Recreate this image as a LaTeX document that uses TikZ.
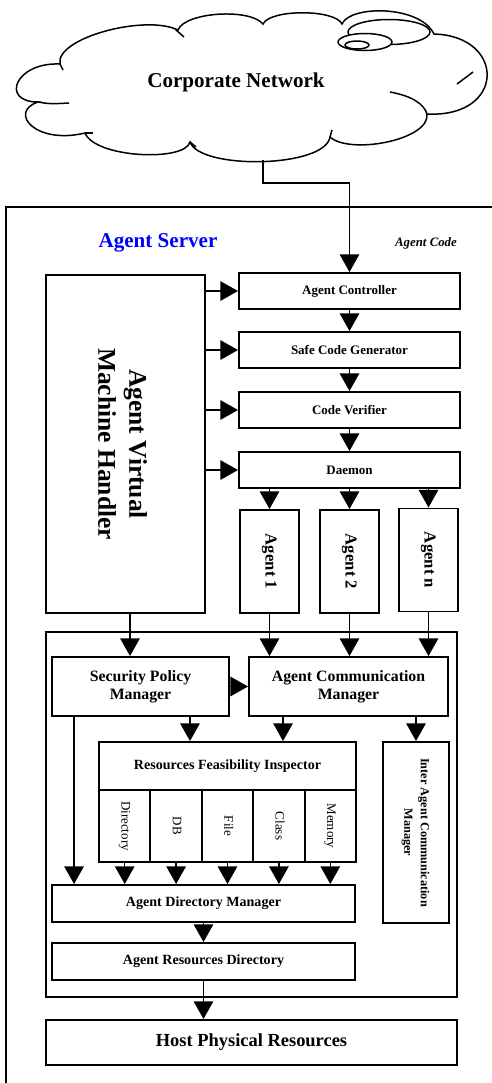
\documentclass[tikz,border=0pt]{standalone}
\usepackage{fontspec}
\setmainfont{Liberation Serif}
\usetikzlibrary{arrows.meta}

\newcommand\fsz[2]{\fontsize{#1}{#2}\selectfont}
\newcommand\vlab[1]{\rotatebox{-90}{\begin{tabular}{@{}c@{}}#1\end{tabular}}}

\begin{document}
\begin{tikzpicture}[x=0.02cm,y=-0.02cm,
    box/.style={draw,line width=1.1pt,inner sep=1pt,align=center},
    stage/.style={box,minimum width=4.42cm,minimum height=0.72cm,font=\bfseries\fsz{7.4}{8.8}},
    agent/.style={box,minimum width=1.18cm,minimum height=2.06cm,font=\bfseries\fsz{9.5}{11}},
    mgr/.style={box,minimum height=1.18cm,font=\bfseries\fsz{9}{10.2}},
    res/.style={box,minimum width=1.028cm,minimum height=1.44cm,font=\fsz{7.4}{9}},
    dirbox/.style={box,minimum width=6.06cm,minimum height=0.74cm,font=\bfseries\fsz{8}{9.6}},
    arr/.style={line width=0.9pt,-{Triangle[length=10pt,width=11pt]}},
    cloudline/.style={line width=0.85pt},
    srvframe/.style={line width=1.1pt}]
  \clip (0,0) rectangle (492,1083);

  % the network cloud
  \draw[cloudline] (38,102) .. controls (0,102) and (15,62) .. (60,64)
    .. controls (55,38) and (145,14) .. (178,30)
    .. controls (185,12) and (250,8) .. (263,24)
    .. controls (270,9) and (335,9) .. (342,24)
    .. controls (350,5) and (420,5) .. (434,34)
    .. controls (506,36) and (506,118) .. (427,114)
    .. controls (430,140) and (350,155) .. (330,137)
    .. controls (325,168) and (200,170) .. (190,142)
    .. controls (185,162) and (95,158) .. (85,133)
    .. controls (35,145) and (8,112) .. (38,102) -- cycle;
  \draw[cloudline] (38,102) .. controls (50,104) .. (69,103);
  \draw[cloudline] (60,64) -- (63,70);
  \draw[cloudline] (175,29) .. controls (179,33) .. (184,37);
  \draw[cloudline] (390,92) .. controls (412,96) and (424,104) .. (427,114);
  \draw[cloudline] (332,130) -- (330,137);
  \draw[cloudline] (190,142) -- (196,147);
  \draw[cloudline] (85,133) -- (93,133);
  \draw[cloudline] (457,84) .. controls (465,78) .. (473,72);
  \draw[cloudline] (389,32) ellipse [x radius=0.82cm,y radius=0.25cm];
  \draw[cloudline,fill=white] (365,42) ellipse [x radius=0.54cm,y radius=0.17cm];
  \draw[cloudline,fill=white] (357,45) ellipse [x radius=0.24cm,y radius=0.08cm];
  \node[font=\bfseries\fsz{12}{14}] (net) at (236,82) {Corporate Network};
  \coordinate (netb) at (263,160);

  % agent server
  \draw[srvframe] (6,1100) |- (500,207);
  \node[font=\bfseries\fsz{12}{14},text=blue] (srv) at (158,243) {Agent Server};
  \node[font=\bfseries\itshape\fsz{7.3}{9}] (code) at (426,243) {Agent Code};

  \node[box,minimum width=3.18cm,minimum height=6.76cm,font=\bfseries\fsz{14.5}{17.6}] (avmh) at (125.5,444)
    {\hspace*{-0.22cm}\vlab{Agent Virtual\\Machine Handler}};
  \foreach \n/\y/\t in {ctrl/291/Agent Controller,gen/350/Safe Code Generator,
                        ver/410/Code Verifier,dmn/470/Daemon}
    \node[stage] (\n) at (349.5,\y) {\t};
  \node[agent] (ag1) at (269.5,561.5) {\vlab{Agent 1}};
  \node[agent] (ag2) at (349.5,561.5) {\vlab{Agent 2}};
  \node[agent] (agn) at (428.5,560) {\vlab{Agent n}};

  % managers
  \node[box,minimum width=8.22cm,minimum height=7.3cm] (core) at (251.5,814.5) {};
  \node[mgr,minimum width=3.54cm] (spm) at (140.5,686.5) {Security Policy\\Manager};
  \node[mgr,minimum width=3.98cm] (acm) at (348.5,686.5) {Agent Communication\\Manager};
  \node[box,minimum width=5.14cm,minimum height=0.96cm,font=\bfseries\fsz{8}{9.6}] (rfi) at (227.5,766)
    {Resources Feasibility Inspector};
  \foreach \i/\t in {1/Directory,2/DB,3/File,4/Class,5/Memory}
    \node[res] (r\i) at ({99+51.4*(\i-0.5)},826) {\vlab{\t}};
  \node[box,minimum width=1.32cm,minimum height=3.62cm,font=\bfseries\fsz{7}{9.4}] (iacm) at (416,832.5)
    {\vlab{Inter Agent Communication\\Manager}};
  \node[dirbox] (adm) at (203.5,903.5) {Agent Directory Manager};
  \node[dirbox] (ard) at (203.5,961.5) {Agent Resources Directory};
  \node[box,minimum width=8.22cm,minimum height=0.9cm,font=\bfseries\fsz{10.5}{12}] (hpr) at (251.5,1042.5)
    {Host Physical Resources};

  % connectors
  \draw[arr] (netb) -- ++(0,23) -| (ctrl.north);
  \foreach \n in {ctrl,gen,ver,dmn}
    \draw[arr] (avmh.east |- \n) -- (\n.west);
  \draw[arr] (ctrl) -- (gen);
  \draw[arr] (gen) -- (ver);
  \draw[arr] (ver) -- (dmn);
  \foreach \a in {ag1,ag2,agn}
    \draw[arr] (dmn.south -| \a) -- (\a.north);
  \coordinate (avmhb) at ([xshift=0.09cm]avmh.south);
  \draw[arr] (avmhb) -- (avmhb |- spm.north);
  \foreach \a in {ag1,ag2,agn}
    \draw[arr] (\a.south) -- (\a.south |- acm.north);
  \draw[arr] (spm) -- (acm);
  \coordinate (spmr) at ([xshift=0.99cm]spm.south);
  \coordinate (spml) at ([xshift=0.46cm]spm.south west);
  \coordinate (acml) at ([xshift=-1.31cm]acm.south);
  \draw[arr] (spmr) -- (spmr |- rfi.north);
  \draw[arr] (acml) -- (acml |- rfi.north);
  \draw[arr] (acm.south -| iacm) -- (iacm.north);
  \draw[arr] (spml) -- (spml |- adm.north);
  \foreach \i in {1,...,5}
    \draw[arr] (r\i.south) -- (r\i.south |- adm.north);
  \draw[arr] (adm) -- (ard);
  \draw[arr] (ard.south) -- (ard.south |- hpr.north);
\end{tikzpicture}
\end{document}
